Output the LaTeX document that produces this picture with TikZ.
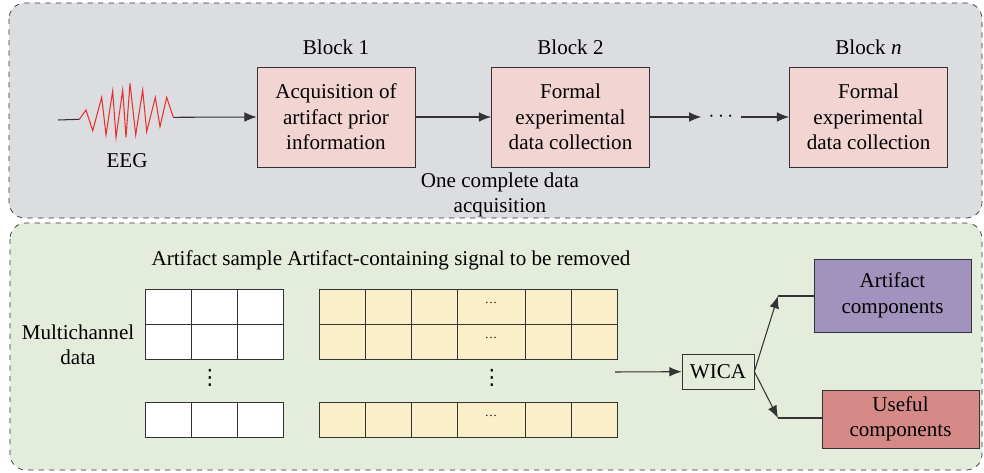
\documentclass[tikz,border=0pt]{standalone}
\usepackage{fontspec}
\setmainfont{Liberation Serif}
\newfontfamily\dotsfont{DejaVu Sans}
\usetikzlibrary{arrows.meta, positioning, calc}

\definecolor{panelgray}{HTML}{DCDDE0}
\definecolor{panelgreen}{HTML}{E4EDDB}
\definecolor{blockpink}{HTML}{F2D4D3}
\definecolor{cellyellow}{HTML}{FBEFC9}
\definecolor{artpurple}{HTML}{A292BE}
\definecolor{usefulred}{HTML}{D68A87}
\definecolor{edgegray}{HTML}{333333}
\definecolor{eegred}{HTML}{E8302E}

\tikzset{
  panel/.style={draw=edgegray, dashed, rounded corners=9pt},
  blockbox/.style={draw=edgegray, fill=blockpink, minimum width=3.16cm, minimum height=2cm, align=center, inner sep=0pt},
  cell/.style={draw=edgegray, minimum height=0.7cm, inner sep=0pt},
  outbox/.style={draw=edgegray, minimum width=3.14cm, align=center, inner sep=0pt},
  link/.style={->, edgegray, semithick},
}

\begin{document}
\begin{tikzpicture}[x=0.02cm, y=-0.02cm, font=\fontsize{12}{14.5}\selectfont, >={Latex[length=7pt,width=5.5pt]}]
        \useasboundingbox (0,0) rectangle (984,473);
        % panels
        \draw[panel, fill=panelgray] (9,3) rectangle (982,218);
        \draw[panel, fill=panelgreen] (10,223) rectangle (982,470);

        % upper part: acquisition blocks
        \draw[edgegray, semithick] (58,120) -- (79.3,119.3);
        \draw[eegred, semithick] (79.3,119.3) -- (86,110) -- (92.7,130.7) -- (101.7,97.3) -- (106,135)
          -- (112.7,90.7) -- (116,137.3) -- (122.7,90) -- (126,137.3) -- (130,83.3) -- (135.7,135)
          -- (142.7,90) -- (146.7,131.7) -- (155.3,97.3) -- (160,126.7) -- (166.7,97.3) -- (173.3,117.3);
        \coordinate (eegend) at (173.3,117.3);
        \node (eeg) at (127,161) {EEG};

        \node[blockbox] (b1) at (336,117) {Acquisition of\\artifact prior\\information};
        \node[blockbox] (b2) at (570.5,117) {Formal\\experimental\\data collection};
        \node[blockbox] (bn) at (868.5,117) {Formal\\experimental\\data collection};
        \node (b1lab) at (336,47) {Block 1};
        \node (b2lab) at (570.5,47) {Block 2};
        \node (bnlab) at (868.5,47) {Block \textit{n}};
        \node[inner sep=4pt] (dots) at (721,117) {$\cdots$};
        \node[align=center] (once) at (500,195) {One complete data\\acquisition};

        \draw[link] (eegend) -- (b1.west);
        \draw[link] (b1) -- (b2);
        \draw[link] (b2) -- (dots);
        \draw[link] (dots) -- (bn);

        % lower part: channel data and WICA
        \node (title) at (391,260) {Artifact sample Artifact-containing signal to be removed};
        \node[align=center] (multi) at (78,345) {Multichannel\\data};

        \foreach \cy [count=\r] in {306.5, 341.5, 419.5} {
          \foreach \cx [count=\c] in {168, 214, 260}
            \node[cell, fill=white, minimum width=0.92cm] (w-\r-\c) at (\cx,\cy) {};
          \foreach \cx/\w [count=\c] in {342/46, 388/46, 434/46, 491/68, 548/46, 594/46}
            \node[cell, fill=cellyellow, minimum width=\w*0.02cm] (y-\r-\c) at (\cx,\cy) {};
          \node[font=\scriptsize] at ($(y-\r-4)+(0,-4)$) {\ldots};
        }
        \node[font=\dotsfont\fontsize{12}{14}\selectfont] (wdots) at (210,378) {⋮};
        \node[font=\dotsfont\fontsize{12}{14}\selectfont] (ydots) at (492,378) {⋮};

        \node[draw=edgegray, minimum width=1.44cm, minimum height=0.7cm, inner sep=0pt] (wica) at (718,371.5) {WICA};
        \node[outbox, fill=artpurple, minimum height=1.46cm] (art) at (892.5,295.5) {Artifact\\components};
        \node[outbox, fill=usefulred, minimum height=1.16cm] (useful) at (900.5,419) {Useful\\components};

        \coordinate (gridout) at (615,372);
        \coordinate (artbend) at (778,296);
        \coordinate (usebend) at (778,418);
        \draw[link] (gridout) -- (wica);
        \draw[link] (wica.east) -- (artbend);
        \draw[link] (wica.east) -- (usebend);
        \draw[edgegray, semithick] (artbend) -- (art.west |- artbend);
        \draw[edgegray, semithick] (usebend) -- (useful.west |- usebend);
      \end{tikzpicture}
\end{document}
